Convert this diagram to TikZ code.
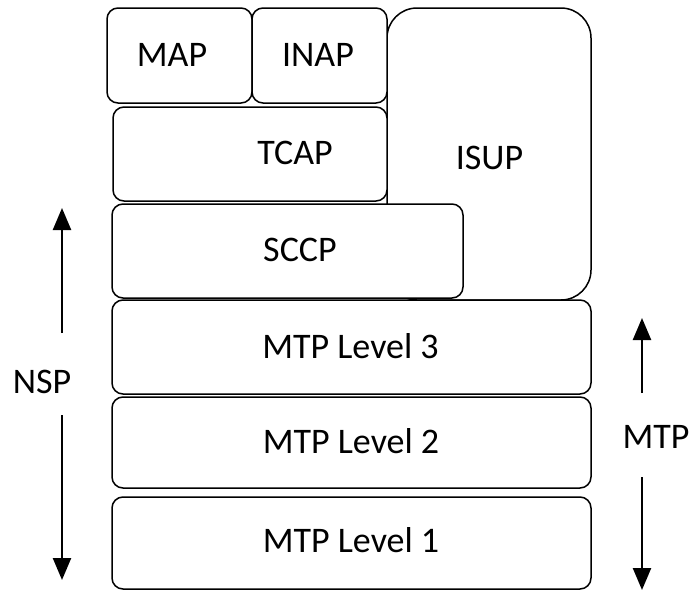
\documentclass[tikz,border=0pt]{standalone}
\usepackage{fontspec}
\setmainfont{Carlito}
\usetikzlibrary{arrows.meta}
\begin{document}
\begin{tikzpicture}[x=1pt,y=-1pt,
  layer/.style={draw=black,line width=1.5pt,rounded corners=11pt,fill=white,inner sep=0pt,outer sep=0pt},
  lbl/.style={font=\fontsize{36}{40}\selectfont,inner sep=0pt},
  dim/.style={line width=2.4pt,-{Triangle[width=18pt,length=22pt]}}]
\useasboundingbox (0,0) rectangle (691,592);
% ISUP (behind)
\node[layer,rounded corners=30pt,minimum width=204pt,minimum height=292pt] (isup) at (489,154) {};
\node[layer,minimum width=145pt,minimum height=95pt] (map) at (179.5,55.5) {};
\node[layer,minimum width=135pt,minimum height=95pt] (inap) at (319.5,55.5) {};
\node[layer,minimum width=274pt,minimum height=94pt] (tcap) at (250,154) {};
\node[layer,minimum width=351pt,minimum height=94pt] (sccp) at (287.5,251) {};
\node[layer,minimum width=479pt,minimum height=94pt] (mtp3) at (351.5,347) {};
\node[layer,minimum width=479pt,minimum height=91pt] (mtp2) at (351.5,442.5) {};
\node[layer,minimum width=479pt,minimum height=92pt] (mtp1) at (351.5,543) {};
% texts
\node[lbl] (tmap) at (172,55) {MAP};
\node[lbl] (tinap) at (318,55) {INAP};
\node[lbl] (ttcap) at (295,153) {TCAP};
\node[lbl] (tisup) at (489.5,158) {ISUP};
\node[lbl] (tsccp) at (300,250) {SCCP};
\node[lbl] (tmtp3) at (350.5,346) {MTP Level 3};
\node[lbl] (tmtp2) at (351,441) {MTP Level 2};
\node[lbl] (tmtp1) at (351,540) {MTP Level 1};
\node[lbl] (nsp) at (42,382) {NSP};
\node[lbl] (mtp) at (656,437) {MTP};
% arrows
\coordinate (nspA) at (62,333);
\coordinate (nspAt) at (62,208);
\coordinate (nspB) at (62,415);
\coordinate (nspBt) at (62,580);
\coordinate (mtpA) at (642,393);
\coordinate (mtpAt) at (642,318);
\coordinate (mtpB) at (642,477);
\coordinate (mtpBt) at (642,590);
\draw[dim] (nspA) -- (nspAt);
\draw[dim] (nspB) -- (nspBt);
\draw[dim] (mtpA) -- (mtpAt);
\draw[dim] (mtpB) -- (mtpBt);
\end{tikzpicture}
\end{document}
